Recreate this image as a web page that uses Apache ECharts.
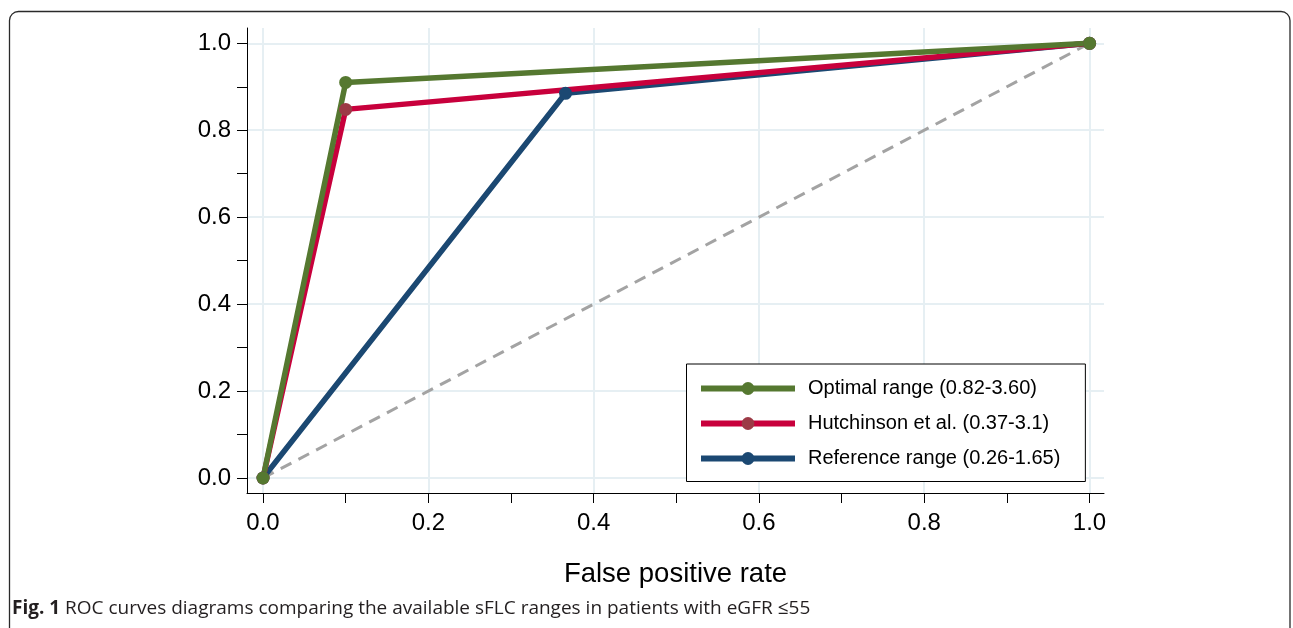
<!DOCTYPE html>
<html><head><meta charset="utf-8">
<script src="https://cdn.jsdelivr.net/npm/echarts@6/dist/echarts.min.js"></script>
<style>html,body{margin:0;padding:0;background:#fff}#c{width:1293px;height:628px}</style>
</head><body><div id="c"></div>
<script>
const seriesNames = ['Optimal range (0.82-3.60)', 'Hutchinson et al. (0.37-3.1)', 'Reference range (0.26-1.65)'];
const optimalFPR = [0, 0.1, 1];
const optimalTPR = [0, 0.91, 1];
const hutchFPR = [0, 0.1, 1];
const hutchTPR = [0, 0.848, 1];
const refFPR = [0, 0.366, 1];
const refTPR = [0, 0.885, 1];
const chanceFPR = [0, 1];
const chanceTPR = [0, 1];
const majorTicks = [0, 0.2, 0.4, 0.6, 0.8, 1.0];
const minorTicks = [0.1, 0.3, 0.5, 0.7, 0.9];
const xAxisTitle = 'False positive rate';
const captionBold = 'Fig. 1';
const captionText = ' ROC curves diagrams comparing the available sFLC ranges in patients with eGFR \u226455';

const zip = (a, b) => a.map((v, i) => [v, b[i]]);
const X_MIN = -0.0194, X_MAX = 1.0175, Y_MIN = -0.0345, Y_MAX = 1.0352;
const FONT = 'Liberation Sans, Arial, sans-serif';
const fmt = v => Number(v).toFixed(1);

function mainAxis(min, max, extra) {
  return Object.assign({
    type: 'value', min: min, max: max,
    axisLine: { show: true, onZero: false, lineStyle: { color: '#000', width: 1 } },
    axisTick: { show: true, length: 10, customValues: majorTicks, lineStyle: { color: '#000', width: 1 } },
    axisLabel: { show: true, customValues: majorTicks, formatter: fmt, fontSize: 24, color: '#000', fontFamily: FONT },
    splitLine: { show: true, lineStyle: { color: '#e6eff3', width: 2 } }
  }, extra);
}
function minorAxis(min, max, pos) {
  return {
    type: 'value', min: min, max: max, position: pos,
    axisLine: { show: false, onZero: false },
    axisTick: { show: true, length: 10, customValues: minorTicks, lineStyle: { color: '#000', width: 1 } },
    axisLabel: { show: false },
    splitLine: { show: false }
  };
}

const chart = echarts.init(document.getElementById('c'));
chart.setOption({
  animation: false,
  backgroundColor: '#fff',
  tooltip: { show: false },
  grid: { left: 247, top: 28, width: 857, height: 465, containLabel: false, outerBoundsMode: 'none' },
  xAxis: [
    mainAxis(X_MIN, X_MAX, {
      position: 'bottom',
      axisLabel: { show: true, customValues: majorTicks, formatter: fmt, fontSize: 24, color: '#000', fontFamily: FONT, margin: 18 },
      name: xAxisTitle, nameLocation: 'middle', nameGap: 67,
      nameTextStyle: { fontSize: 27.5, color: '#000', fontFamily: FONT }
    }),
    minorAxis(X_MIN, X_MAX, 'bottom')
  ],
  yAxis: [
    mainAxis(Y_MIN, Y_MAX, {
      position: 'left',
      axisLabel: { show: true, customValues: majorTicks, formatter: fmt, fontSize: 24, color: '#000', fontFamily: FONT, margin: 16 }
    }),
    minorAxis(Y_MIN, Y_MAX, 'left')
  ],
  legend: {
    orient: 'vertical', left: 686.5, top: 364,
    data: seriesNames,
    itemWidth: 94, itemHeight: 16, itemGap: 15,
    padding: [14.5, 25, 13, 11.5],
    backgroundColor: '#fff', borderColor: '#000', borderWidth: 1, borderRadius: 0,
    selectedMode: false,
    lineStyle: { width: 6 },
    textStyle: { fontSize: 20, color: '#000', fontFamily: FONT, padding: [0, 0, 0, 8] }
  },
  graphic: [
    {
      type: 'rect', z: -10, silent: true,
      shape: { x: 9.5, y: 11.5, width: 1280.5, height: 700, r: [9, 9, 0, 0] },
      style: { fill: 'none', stroke: '#2a2a2a', lineWidth: 1.3 }
    },
    {
      type: 'text', left: 12, top: 599, silent: true,
      style: {
        text: '{b|' + captionBold + '}{r|' + captionText + '}',
        rich: {
          b: { fontWeight: 'bold', fontSize: 19, fontFamily: 'Open Sans, sans-serif', fill: '#231f20' },
          r: { fontSize: 19, fontFamily: 'Open Sans, sans-serif', fill: '#231f20' }
        }
      }
    }
  ],
  series: [
    {
      name: 'chance', type: 'line', data: zip(chanceFPR, chanceTPR), symbol: 'none', silent: true,
      lineStyle: { color: '#a3a3a3', width: 3, type: [12, 8] }
    },
    {
      name: seriesNames[2], type: 'line', data: zip(refFPR, refTPR),
      symbol: 'circle', symbolSize: 13, showSymbol: true,
      lineStyle: { color: '#1b4872', width: 5.5 }, itemStyle: { color: '#1b4872' }
    },
    {
      name: seriesNames[1], type: 'line', data: zip(hutchFPR, hutchTPR),
      symbol: 'circle', symbolSize: 13, showSymbol: true,
      lineStyle: { color: '#c8003c', width: 5.5 }, itemStyle: { color: '#9c3a46' }
    },
    {
      name: seriesNames[0], type: 'line', data: zip(optimalFPR, optimalTPR),
      symbol: 'circle', symbolSize: 13, showSymbol: true,
      lineStyle: { color: '#557830', width: 5.5 }, itemStyle: { color: '#557830' }
    }
  ]
});
</script></body></html>
